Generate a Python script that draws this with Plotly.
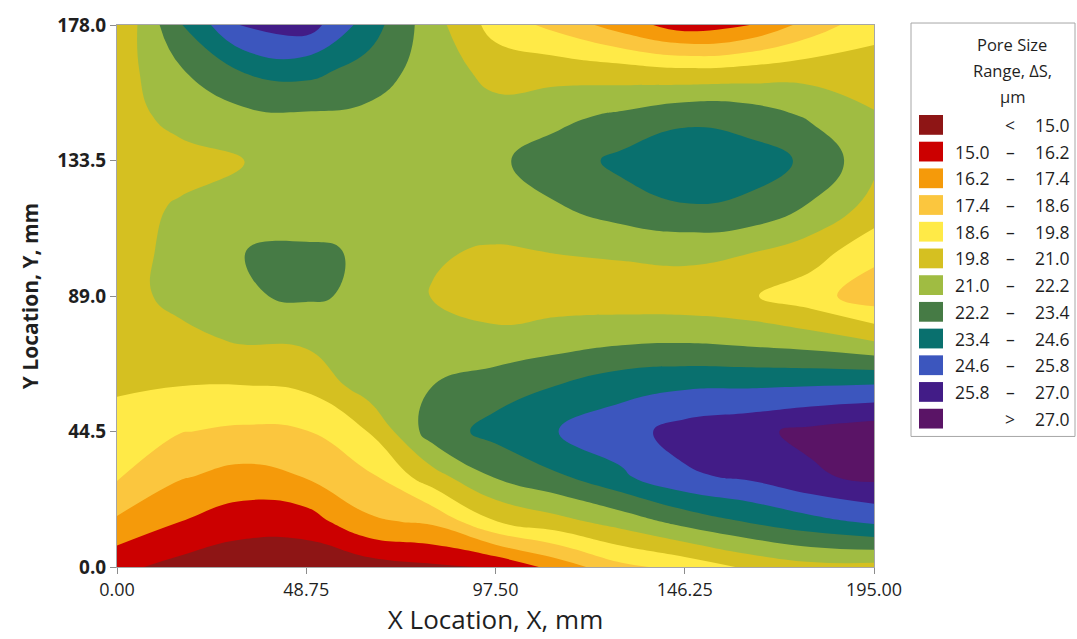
import plotly.graph_objects as go

# grid coordinates (mm)
x_grid = [0, 16.25, 32.5, 48.75, 65, 81.25, 97.5, 113.75, 130, 146.25, 162.5, 178.75, 195]
y_grid = [0, 14.833, 29.667, 44.5, 59.333, 74.167, 89, 103.833, 118.667, 133.5, 148.333, 163.167, 178]

# pore size range values (um), one row per y_grid value (bottom -> top)
row_00 = [15.3, 14.6, 14.2, 14.1, 14.4, 14.8, 15.1, 16.7, 18.3, 19.0, 20.0, 20.6, 20.6]
row_01 = [17.2, 16.2, 15.5, 15.6, 17.2, 17.6, 19.75, 20.6, 21.5, 22.6, 23.45, 24.2, 24.8]
row_02 = [18.75, 17.5, 17.0, 17.45, 18.4, 20.5, 22.3, 23.25, 24.4, 25.6, 26.0, 26.8, 27.3]
row_03 = [19.3, 18.65, 18.4, 18.55, 19.85, 22.8, 23.8, 24.6, 25.3, 26.3, 26.7, 27.3, 27.7]
row_04 = [19.95, 19.8, 19.75, 20.0, 21.6, 22.2, 22.9, 23.45, 24.2, 24.45, 24.5, 24.6, 24.75]
row_05 = [20.3, 20.7, 21.1, 21.2, 21.3, 21.5, 21.3, 21.7, 22.0, 22.1, 21.9, 21.6, 21.0]
row_06 = [20.6, 21.3, 22.1, 22.35, 22.0, 20.95, 20.5, 20.4, 20.3, 20.2, 19.95, 19.1, 17.9]
row_07 = [20.7, 21.2, 22.19, 22.4, 22.05, 21.1, 20.9, 21.05, 21.2, 21.4, 21.1, 20.4, 19.0]
row_08 = [20.6, 21.1, 21.5, 21.4, 21.6, 21.5, 21.6, 22.15, 22.9, 23.35, 23.2, 22.1, 20.6]
row_09 = [20.2, 20.6, 20.95, 21.5, 21.7, 21.8, 22.0, 22.8, 23.7, 24.2, 23.9, 23.2, 21.3]
row_10 = [20.5, 21.4, 21.9, 22.05, 21.9, 21.6, 21.4, 21.9, 22.4, 23.1, 22.9, 22.0, 21.1]
row_11 = [20.4, 22.1, 23.5, 23.8, 22.9, 21.6, 20.6, 20.5, 20.3, 20.0, 20.2, 20.5, 20.3]
row_12 = [19.9, 23.3, 25.95, 26.4, 24.0, 21.5, 19.3, 18.2, 16.8, 15.6, 16.15, 17.9, 19.4]

z_rows = [row_00, row_01, row_02, row_03, row_04, row_05, row_06,
          row_07, row_08, row_09, row_10, row_11, row_12]

# legend classes
level_start = 15.0
level_end = 27.0
level_step = 1.2
class_left = ["", "15.0", "16.2", "17.4", "18.6", "19.8", "21.0", "22.2", "23.4", "24.6", "25.8", ""]
class_mid = ["<", "–", "–", "–", "–", "–", "–", "–", "–", "–", "–", ">"]
class_right = ["15.0", "16.2", "17.4", "18.6", "19.8", "21.0", "22.2", "23.4", "24.6", "25.8", "27.0", "27.0"]
class_colors = ["#8E1515", "#CC0000", "#F59A0A", "#FBC63E", "#FFEA47", "#D5C021",
                "#A0BC42", "#467B45", "#09706E", "#3C56BE", "#421C87", "#5A1466"]

x_ticks = [0, 48.75, 97.5, 146.25, 195]
x_ticktext = ["0.00", "48.75", "97.50", "146.25", "195.00"]
y_ticks = [0, 44.5, 89, 133.5, 178]
y_ticktext = ["0.0", "44.5", "89.0", "133.5", "178.0"]

# stepped colorscale: band k sits at k/(n-1)
n = len(class_colors)
colorscale = []
for k, c in enumerate(class_colors):
    lo = max(0.0, (k - 0.5) / (n - 1))
    hi = min(1.0, (k + 0.5) / (n - 1))
    colorscale.append([lo, c])
    colorscale.append([hi, c])

FONT = "Open Sans"
TXT = "#1f1f1f"

fig = go.Figure()
fig.add_trace(go.Contour(
    x=x_grid, y=y_grid, z=z_rows,
    contours=dict(start=level_start, end=level_end, size=level_step,
                  coloring="fill", showlines=False),
    line=dict(width=0, smoothing=1.3),
    colorscale=colorscale, showscale=False, hoverinfo="skip",
))

W, H = 1077, 639
L, R, T, B = 117, 874, 20, 568

fig.update_layout(
    width=W, height=H, autosize=False,
    margin=dict(l=L, r=W - R, t=T, b=H - B),
    paper_bgcolor="white", plot_bgcolor="white",
    showlegend=False,
    font=dict(family=FONT, color=TXT),
)
fig.update_xaxes(
    range=[0, 195], tickvals=x_ticks, ticktext=x_ticktext,
    ticks="outside", ticklen=6, tickcolor="#8c8c8c", tickwidth=1,
    showgrid=False, zeroline=False, showline=True, linecolor="#a6a6a6", linewidth=1, mirror=True,
    tickfont=dict(size=18, family=FONT, color=TXT),
    title=dict(text="X Location, X, mm", font=dict(size=26, family=FONT, color=TXT), standoff=8),
)
fig.update_yaxes(
    range=[0, 178], tickvals=y_ticks, ticktext=["<b>%s</b>" % t for t in y_ticktext],
    ticks="outside", ticklen=6, tickcolor="#8c8c8c", tickwidth=1,
    showgrid=False, zeroline=False, showline=True, linecolor="#a6a6a6", linewidth=1, mirror=True,
    tickfont=dict(size=19, family=FONT, color=TXT),
    title=dict(text="<b>Y Location, Y, mm</b>", font=dict(size=21, family=FONT, color=TXT), standoff=12),
)

def px_x(px):
    return (px - L) / (R - L)

def px_y(py):
    return (B - py) / (B - T)

# legend box
fig.add_shape(type="rect", xref="paper", yref="paper",
              x0=px_x(911), x1=px_x(1075), y0=px_y(436), y1=px_y(18),
              line=dict(color="#a6a6a6", width=1), fillcolor="white", layer="below")
for i, line in enumerate(["Pore Size", "Range, ΔS,", "μm"]):
    fig.add_annotation(xref="paper", yref="paper", x=px_x(1012), y=px_y(40 + 26 * i),
                       text=line, showarrow=False, xanchor="center", yanchor="middle",
                       font=dict(size=16.5, family=FONT, color=TXT))
row0 = 121
drow = 27.0
for k in range(n):
    cy = row0 + drow * k
    fig.add_shape(type="rect", xref="paper", yref="paper",
                  x0=px_x(919), x1=px_x(943), y0=px_y(cy + 10), y1=px_y(cy - 10),
                  line=dict(width=0), fillcolor=class_colors[k])
    if class_left[k]:
        fig.add_annotation(xref="paper", yref="paper", x=px_x(953), y=px_y(cy),
                           text=class_left[k], showarrow=False, xanchor="left", yanchor="middle",
                           font=dict(size=17.5, family=FONT, color=TXT))
    fig.add_annotation(xref="paper", yref="paper", x=px_x(1010), y=px_y(cy),
                       text=class_mid[k], showarrow=False, xanchor="center", yanchor="middle",
                       font=dict(size=17.5, family=FONT, color=TXT))
    fig.add_annotation(xref="paper", yref="paper", x=px_x(1072), y=px_y(cy),
                       text=class_right[k], showarrow=False, xanchor="right", yanchor="middle",
                       font=dict(size=17.5, family=FONT, color=TXT))

fig.write_html("out.html")
